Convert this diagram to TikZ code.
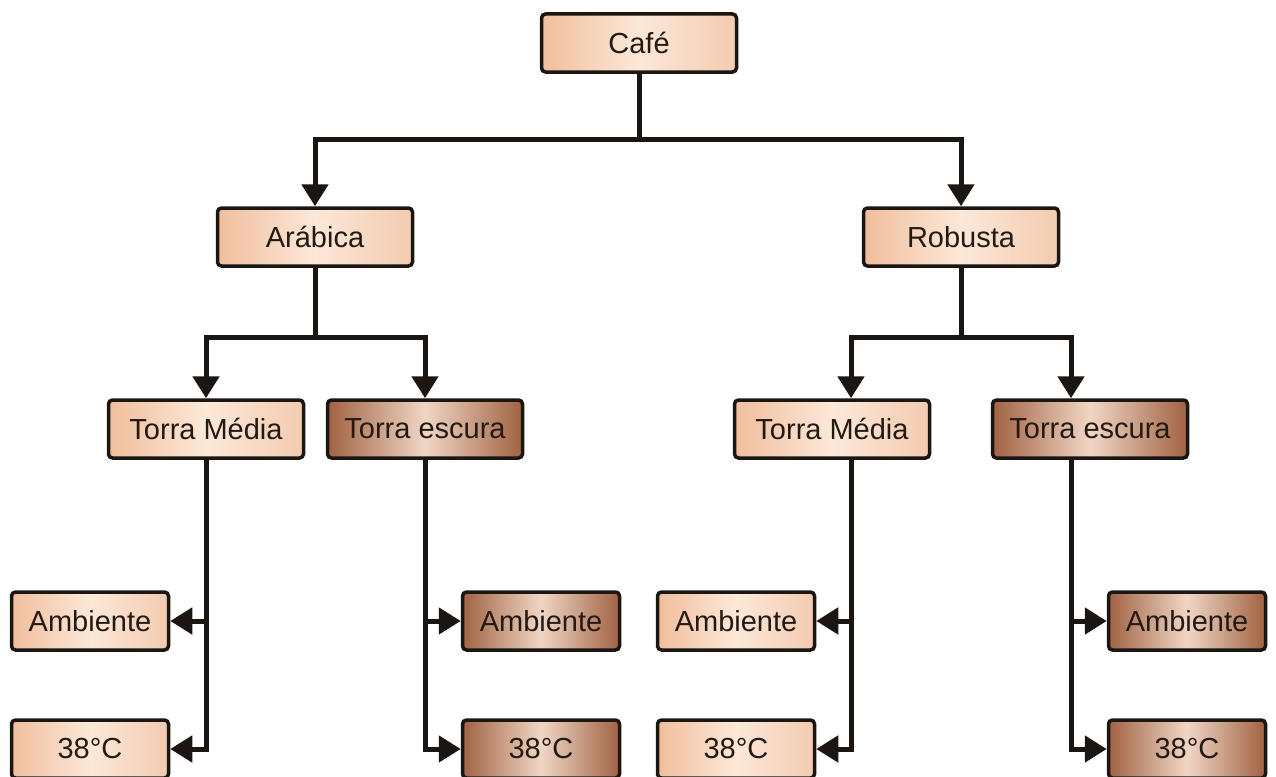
\documentclass[tikz,border=0pt]{standalone}
\usepackage{fontspec}
\setmainfont{Liberation Sans}
\usetikzlibrary{arrows.meta}
\definecolor{peach}{RGB}{240,190,156}
\definecolor{cream}{RGB}{252,232,216}
\definecolor{roast}{RGB}{160,98,66}
\definecolor{roastlight}{RGB}{240,214,196}
\definecolor{edge}{RGB}{28,22,18}
\definecolor{ink}{RGB}{36,26,20}
\tikzset{
  box/.style={draw=edge, line width=3.5pt, rounded corners=4pt, minimum height=58pt,
    inner sep=0pt, text=ink, font=\fontsize{29}{33}\selectfont},
  light/.style={box, left color=peach, right color=peach!80, middle color=cream},
  dark/.style={box, left color=roast, right color=roast, middle color=roastlight},
  wire/.style={draw=edge, line width=5pt},
  tip/.style={wire, -{Triangle[length=22pt,width=26pt]}},
}
\begin{document}
\begin{tikzpicture}[x=1pt,y=-1pt]
\useasboundingbox (0,0) rectangle (1276,776);
% Drawing boxes
\node[light, minimum width=195pt] (cafe) at (639,43) {Café};
\node[light, minimum width=195pt] (arab) at (315,237) {Arábica};
\node[light, minimum width=195pt] (rob) at (961,237) {Robusta};
% roast level
\node[light, minimum width=195pt] (tmedL) at (206,429) {Torra Média};
\node[dark, minimum width=195pt] (tescL) at (425,429) {Torra escura};
\node[light, minimum width=195pt] (tmedR) at (832,429) {Torra Média};
\node[dark, minimum width=195pt] (tescR) at (1090,429) {Torra escura};
% temperature
\node[light, minimum width=157pt] (ambA) at (90,621) {Ambiente};
\node[light, minimum width=157pt] (hotA) at (90,749) {38°C};
\node[dark, minimum width=157pt] (ambB) at (541,621) {Ambiente};
\node[dark, minimum width=157pt] (hotB) at (541,749) {38°C};
\node[light, minimum width=157pt] (ambC) at (736,621) {Ambiente};
\node[light, minimum width=157pt] (hotC) at (736,749) {38°C};
\node[dark, minimum width=157pt] (ambD) at (1187,621) {Ambiente};
\node[dark, minimum width=157pt] (hotD) at (1187,749) {38°C};
% Done with boxes; drawing connectors
\coordinate (j0) at (639,139);
\draw[tip] (cafe.south) -- (j0) -| (arab.north);
\draw[tip] (j0) -| (rob.north);
\coordinate (j1) at (315,337);
\draw[tip] (arab.south) -- (j1) -| (tmedL.north);
\draw[tip] (j1) -| (tescL.north);
\coordinate (j2) at (961,337);
\draw[tip] (rob.south) -- (j2) -| ([xshift=19pt]tmedR.north);
\draw[tip] (j2) -| ([xshift=-19pt]tescR.north);
% stems to temperature
\draw[tip] (tmedL.south) |- (ambA.east);
\draw[tip] (tmedL.south) |- (hotA.east);
\draw[tip] (tescL.south) |- (ambB.west);
\draw[tip] (tescL.south) |- (hotB.west);
\draw[tip] ([xshift=19pt]tmedR.south) |- (ambC.east);
\draw[tip] ([xshift=19pt]tmedR.south) |- (hotC.east);
\draw[tip] ([xshift=-19pt]tescR.south) |- (ambD.west);
\draw[tip] ([xshift=-19pt]tescR.south) |- (hotD.west);
% Done with connectors
\end{tikzpicture}
\end{document}
